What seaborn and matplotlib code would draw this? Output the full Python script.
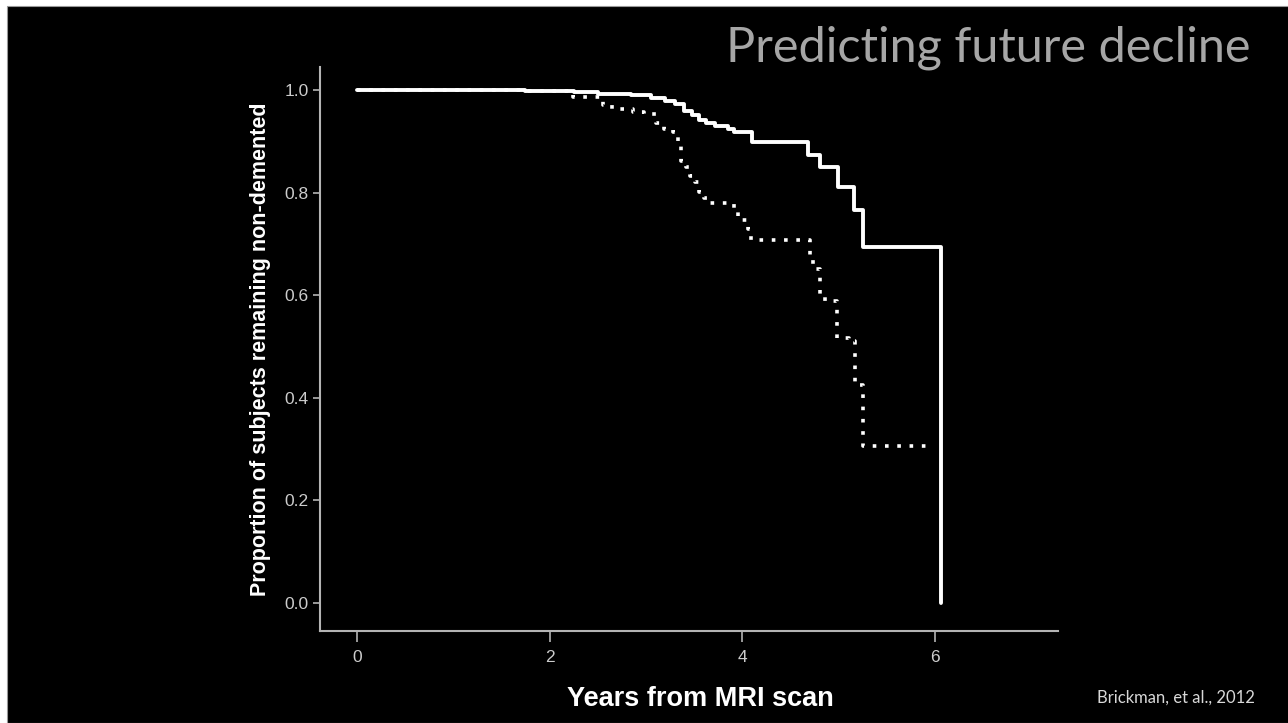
import numpy as np
import pandas as pd
from matplotlib import pyplot as plt
from matplotlib.patches import Rectangle
import seaborn as sns

# Kaplan-Meier style survival steps
solid_years = [0, 1.75, 2.25, 2.5, 2.85, 3.05, 3.2, 3.3, 3.4, 3.48, 3.55, 3.62, 3.72,
               3.85, 3.92, 4.1, 4.68, 4.81, 5.0, 5.16, 5.25, 6.06]
solid_prop = [1.0, 0.998, 0.996, 0.993, 0.99, 0.985, 0.978, 0.972, 0.96, 0.952, 0.942, 0.935, 0.93,
              0.925, 0.918, 0.899, 0.873, 0.85, 0.811, 0.766, 0.694, 0.0]

dotted_years = [0, 1.75, 2.24, 2.55, 2.65, 2.87, 2.98, 3.11, 3.19, 3.28, 3.33, 3.36, 3.42, 3.46,
                3.51, 3.55, 3.6, 3.66, 3.92, 3.96, 4.06, 4.09, 4.7, 4.74, 4.81, 4.86, 4.98, 5.11,
                5.17, 5.25, 5.95]
dotted_prop = [1.0, 0.998, 0.986, 0.971, 0.963, 0.957, 0.953, 0.936, 0.924, 0.918, 0.9, 0.862, 0.85,
               0.832, 0.821, 0.801, 0.79, 0.78, 0.764, 0.747, 0.729, 0.708, 0.673, 0.651, 0.6, 0.589,
               0.517, 0.511, 0.425, 0.306, 0.306]

x_ticks = [0, 2, 4, 6]
y_ticks = [0.0, 0.2, 0.4, 0.6, 0.8, 1.0]

solid_df = pd.DataFrame({"years": solid_years, "prop": solid_prop})
dotted_df = pd.DataFrame({"years": dotted_years, "prop": dotted_prop})

sns.set_theme(style="ticks")
plt.rcParams['font.family'] = ['Liberation Sans Narrow', 'Liberation Sans', 'DejaVu Sans']

fig = plt.figure(figsize=(12.88, 7.23), dpi=100, facecolor="white")
# black slide area (thin white margin at top and left like the screenshot)
fig.patches.append(Rectangle((7 / 1288, 0), 1, (723 - 6) / 723, transform=fig.transFigure,
                             facecolor="black", edgecolor="#999999", linewidth=0.8, zorder=-5))

ax = fig.add_axes([320 / 1288, 92 / 723, 738 / 1288, 564 / 723])
ax.set_facecolor("black")

sns.lineplot(data=dotted_df, x="years", y="prop", ax=ax, estimator=None, sort=False,
             drawstyle="steps-post", color="white", linewidth=2.6,
             linestyle=(0, (1, 2.4)), dash_capstyle="butt")
sns.lineplot(data=solid_df, x="years", y="prop", ax=ax, estimator=None, sort=False,
             drawstyle="steps-post", color="white", linewidth=2.8)

ax.set_xlim(-0.384, 7.28)
ax.set_ylim(-0.0546, 1.045)
ax.set_xticks(x_ticks)
ax.set_xticklabels([str(t) for t in x_ticks])
ax.set_yticks(y_ticks)
ax.set_yticklabels([f"{t:.1f}" for t in y_ticks])

for side in ["top", "right"]:
    ax.spines[side].set_visible(False)
for side in ["left", "bottom"]:
    ax.spines[side].set_color("#b4b4b4")
    ax.spines[side].set_linewidth(1.5)
ax.tick_params(axis="both", colors="#b4b4b4", labelcolor="#cccccc", labelsize=12.5, width=1.2)
ax.tick_params(axis="x", length=8, pad=6)
ax.tick_params(axis="y", length=5, pad=3)

ax.set_xlabel("Years from MRI scan", color="white", fontsize=19.5, fontweight="bold")
ax.xaxis.set_label_coords(0.516, -0.098)
ax.set_ylabel("Proportion of subjects remaining non-demented", color="white", fontsize=15.5,
              fontweight="bold", family=['Liberation Sans', 'DejaVu Sans'], labelpad=10)

fig.text(1250 / 1288, 1 - 48 / 723, "Predicting future decline", color="#a6a6a6", fontsize=35,
         family=['Lato', 'DejaVu Sans'], ha="right", va="center")
fig.text(1255 / 1288, 1 - 698 / 723, "Brickman, et al., 2012", color="#d9d9d9", fontsize=12,
         family=['Lato', 'DejaVu Sans'], ha="right", va="center")

fig.savefig("out.png", dpi=100, facecolor=fig.get_facecolor())
